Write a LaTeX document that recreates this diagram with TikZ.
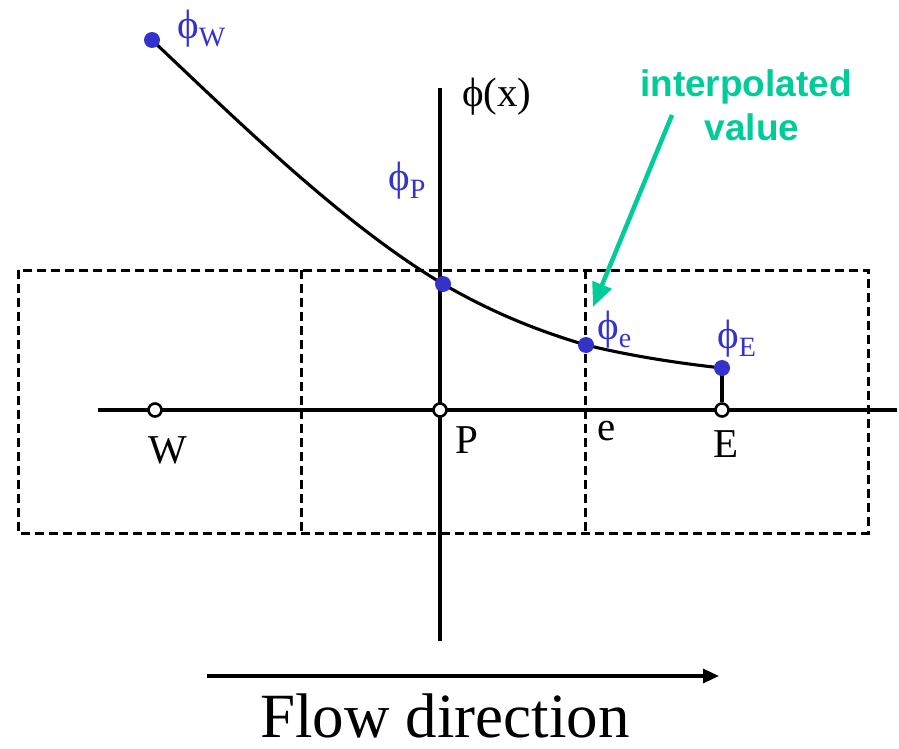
\documentclass[tikz,border=0pt]{standalone}
\usepackage{fontspec}
\setmainfont{Liberation Serif}
\newfontfamily\lsans{Liberation Sans}
\usetikzlibrary{arrows.meta}
\definecolor{phiblue}{RGB}{51,51,204}
\definecolor{interp}{RGB}{0,204,153}
\newcommand{\lowsub}[1]{\raisebox{-8pt}{\fontsize{28}{28}\selectfont #1}}
\begin{document}
\begin{tikzpicture}[x=1pt,y=-1pt,
  axis/.style={line width=3.1pt},
  cellbox/.style={line width=3pt, dash pattern=on 9pt off 5pt},
  bdot/.style={circle, fill=phiblue, inner sep=0pt, minimum size=16pt},
  odot/.style={circle, draw, fill=white, line width=2.6pt, inner sep=0pt, minimum size=13pt},
  lab/.style={font=\fontsize{41}{41}\selectfont, anchor=base west, inner sep=0pt},
  blab/.style={lab, text=phiblue},
  ivlab/.style={font=\lsans\bfseries\fontsize{37}{37}\selectfont, text=interp, anchor=base, inner sep=0pt},
  greenarrow/.style={draw=interp, line width=4.5pt, -{Triangle[length=24pt,width=20pt]}},
  flowarrow/.style={line width=3.1pt, -{Triangle[length=16pt,width=14pt]}},
  curve/.style={line width=3.1pt}
]
\useasboundingbox (0,0) rectangle (899,749);
% control-volume cells
\draw[cellbox] (18,270) rectangle (868,533);
\draw[cellbox] (301,270) -- (301,533);
\draw[cellbox] (585,270) -- (585,533);
% axes
\coordinate (xl) at (98,410);
\coordinate (xr) at (897,410);
\coordinate (yt) at (440,88);
\coordinate (yb) at (440,641);
\draw[axis] (xl) -- (xr);
\draw[axis] (yt) -- (yb);
% points
\coordinate (cW) at (152,40);
\coordinate (cP) at (443,284);
\coordinate (ce) at (586,345);
\coordinate (cE) at (722,368);
% curve
\draw[curve] (cW) .. controls (249,132) and (346,226) .. (cP)
  .. controls (491,312) and (538,331) .. (ce)
  .. controls (631,356) and (677,363) .. (cE);
\node[odot] (W) at (155,410) {};
\node[odot] (P) at (440,410) {};
\node[odot] (E) at (722,410) {};
\draw[axis] (cE) -- (E.north);
\node[bdot] (pW) at (cW) {};
\node[bdot] (pP) at (cP) {};
\node[bdot] (pe) at (ce) {};
\node[bdot] (pE) at (cE) {};
% labels
\node[blab] (lW) at (177,39) {ϕ\lowsub{W}};
\node[blab] (lP) at (388,190) {ϕ\lowsub{P}};
\node[blab] (le) at (597,339) {ϕ\lowsub{e}};
\node[blab] (lE) at (717,348) {ϕ\lowsub{E}};
\node[lab] (lphi) at (462,107) {ϕ(x)};
\node[lab] (tW) at (148,463) {W};
\node[lab] (tP) at (455,453) {P};
\node[lab] (te) at (597,440) {e};
\node[lab] (tE) at (713,457) {E};
% interpolated value
\node[ivlab] (iv1) at (746,97) {interpolated};
\node[ivlab] (iv2) at (752,140) {value};
\coordinate (ivs) at (672,115);
\coordinate (ivt) at (593,307);
\draw[greenarrow] (ivs) -- (ivt);
% flow direction
\coordinate (fs) at (207,676);
\coordinate (fe) at (719,676);
\draw[flowarrow] (fs) -- (fe);
\node[font=\fontsize{63}{63}\selectfont, anchor=base, inner sep=0pt, text depth=0pt] (flow) at (445,737) {Flow direction};
\end{tikzpicture}
\end{document}
